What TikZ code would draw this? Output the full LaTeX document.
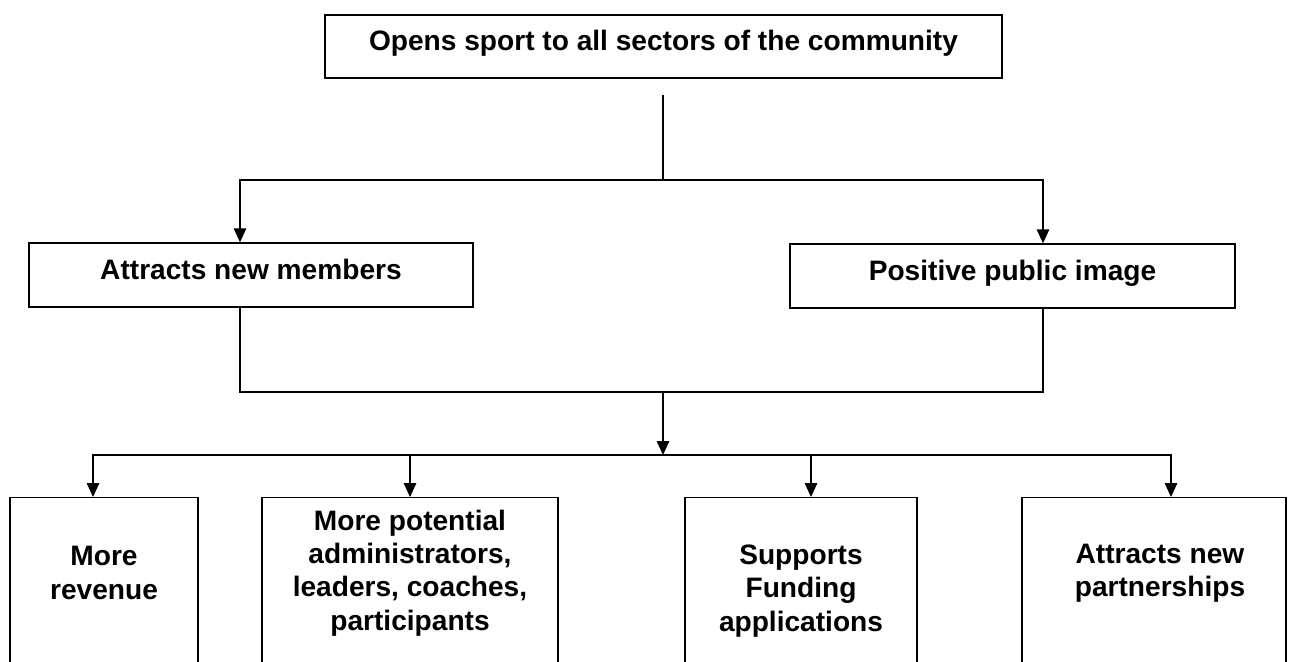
\documentclass[tikz,border=0pt]{standalone}
\usepackage{fontspec}
\setmainfont{Liberation Sans}
\usetikzlibrary{arrows.meta}

\tikzset{
  box/.style={draw, line width=0.8pt, font=\bfseries\fontsize{16}{19}\selectfont, align=center, inner sep=0pt, text height=0.72em, text depth=0.21em},
  lowbox/.style={draw, line width=0.8pt, anchor=north, minimum height=4cm, inner sep=0pt},
  lowtext/.style={font=\bfseries\fontsize{16}{19}\selectfont, align=center},
  wire/.style={line width=0.8pt},
  arr/.style={line width=0.8pt, -{Triangle[length=0.28cm,width=0.25cm]}}
}

\begin{document}
\begin{tikzpicture}[x=0.02cm, y=-0.02cm]
      \clip (0, 0) rectangle (1298, 662);
      \fill[white] (0, 0) rectangle (1298, 662);

      % top row
      \node[box, minimum width=13.54cm, minimum height=1.26cm] (opens) at (663.5, 46.5) {Opens sport to all sectors of the community};

      % middle row
      \node[box, minimum width=8.88cm, minimum height=1.28cm] (members) at (251, 275) {Attracts new members};
      \node[box, minimum width=8.9cm, minimum height=1.28cm] (image) at (1012.5, 276) {Positive public image};

      % bottom row, boxes run off the page
      \node[lowbox, minimum width=3.76cm] (revenue) at (104, 497) {};
      \node[lowbox, minimum width=5.92cm] (staff) at (410, 497) {};
      \node[lowbox, minimum width=4.64cm] (funding) at (801, 497) {};
      \node[lowbox, minimum width=5.28cm] (partners) at (1154, 497) {};
      \node[lowtext] (revenuetxt) at (104, 573) {More\\revenue};
      \node[lowtext] (stafftxt) at (410, 573) {More potential\\administrators,\\leaders, coaches,\\participants};
      \node[lowtext] (fundingtxt) at (801, 591) {Supports\\Funding\\applications};
      \node[lowtext] (partnerstxt) at (1160, 573) {Attracts new\\partnerships};

      % connectors
      \coordinate (stem) at (663, 95);
      \coordinate (split) at (663, 180);
      \coordinate (join) at (663, 392);
      \coordinate (spread) at (663, 455);
      \draw[wire] (stem) -- (split);
      \draw[arr] (split) -| ([xshift=-0.22cm]members.north);
      \draw[arr] (split) -| ([xshift=0.61cm]image.north);
      \draw[wire] ([xshift=-0.22cm]members.south) |- (join) -| ([xshift=0.61cm]image.south);
      \draw[arr] (join) -- (spread);
      \foreach \n/\s in {revenue/-0.22, staff/0, funding/0.2, partners/0.34}
        \draw[arr] (spread) -| ([xshift=\s cm]\n.north);
    \end{tikzpicture}
\end{document}
